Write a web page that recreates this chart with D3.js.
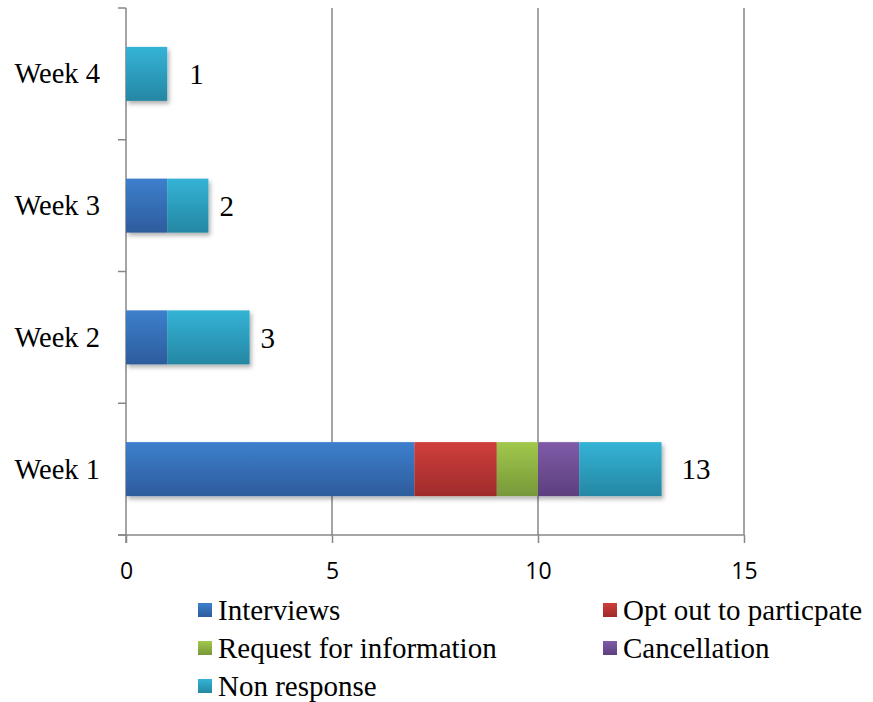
<!DOCTYPE html>
<html>
<head>
<meta charset="utf-8">
<script src="https://cdn.jsdelivr.net/npm/d3@7"></script>
<style>
  body { margin: 0; background: #fff; }
</style>
</head>
<body>
<div id="chart"></div>
<script>
// data
var weeks = ["Week 1", "Week 2", "Week 3", "Week 4"];
var seriesNames = ["Interviews", "Opt out to particpate", "Request for information", "Cancellation", "Non response"];
var interviews = [7, 1, 1, 0];
var optOut = [2, 0, 0, 0];
var requestInfo = [1, 0, 0, 0];
var cancellation = [1, 0, 0, 0];
var nonResponse = [2, 2, 1, 1];
var xTicks = [0, 5, 10, 15];

var colorsTop = ["#3d7fcd", "#d03e3b", "#a2c84b", "#7f5ba8", "#34b3d6"];
var colorsBottom = ["#2d5c9c", "#9e2b2b", "#77983a", "#5d3f7e", "#2587a3"];

var serif = "'Liberation Serif', 'Times New Roman', serif";
var width = 873, height = 702,
    margin = { left: 126, right: 129, top: 8, bottom: 167 };
var chartWidth = width - margin.left - margin.right;
var chartHeight = height - margin.top - margin.bottom;

var rows = weeks.map(function(w, i) {
    return {
        week: w,
        "Interviews": interviews[i],
        "Opt out to particpate": optOut[i],
        "Request for information": requestInfo[i],
        "Cancellation": cancellation[i],
        "Non response": nonResponse[i]
    };
});

var stacked = d3.stack().keys(seriesNames)(rows);

var xScale = d3.scaleLinear().domain([0, 15]).range([0, chartWidth]);
var yScale = d3.scaleBand().domain(weeks.slice().reverse()).range([0, chartHeight]).paddingInner(0.59).paddingOuter(0.295);

var svg = d3.select("#chart").append("svg")
    .attr("width", width)
    .attr("height", height);

var defs = svg.append("defs");
seriesNames.forEach(function(s, i) {
    var g = defs.append("linearGradient")
        .attr("id", "grad" + i)
        .attr("x1", 0).attr("y1", 0).attr("x2", 0).attr("y2", 1);
    g.append("stop").attr("offset", "0%").attr("stop-color", colorsTop[i]);
    g.append("stop").attr("offset", "100%").attr("stop-color", colorsBottom[i]);
});
var filt = defs.append("filter").attr("id", "shadow")
    .attr("x", "-10%").attr("y", "-10%").attr("width", "130%").attr("height", "140%");
filt.append("feDropShadow").attr("dx", 2).attr("dy", 3).attr("stdDeviation", 2)
    .attr("flood-color", "#000").attr("flood-opacity", 0.3);

var chartG = svg.append("g")
    .attr("transform", "translate(" + margin.left + "," + margin.top + ")");

// gridlines
chartG.append("g").selectAll("line").data(xTicks.slice(1)).enter().append("line")
    .attr("x1", function(d) { return xScale(d); })
    .attr("x2", function(d) { return xScale(d); })
    .attr("y1", 0).attr("y2", chartHeight)
    .attr("stroke", "#878787").attr("stroke-width", 1.5);

// x axis
var xAxis = d3.axisBottom(xScale).tickValues(xTicks).tickSize(8);
var xg = chartG.append("g")
    .attr("transform", "translate(0," + chartHeight + ")")
    .call(xAxis);
xg.select(".domain").remove();
xg.append("line").attr("x1", -8).attr("x2", chartWidth).attr("y1", 0).attr("y2", 0)
    .attr("stroke", "#878787").attr("stroke-width", 1.5);
xg.selectAll(".tick line").attr("stroke", "#878787").attr("stroke-width", 1.5);
xg.selectAll(".tick text")
    .attr("y", 44).attr("dy", 0)
    .attr("fill", "#000")
    .style("font-family", "'Open Sans', 'Liberation Sans', sans-serif")
    .style("font-size", "23px");

// y axis (ticks between categories)
var bandStep = chartHeight / weeks.length;
var yTickPos = d3.range(weeks.length + 1).map(function(i) { return i * bandStep; });
chartG.append("line").attr("x1", 0).attr("x2", 0).attr("y1", 0).attr("y2", chartHeight + 8)
    .attr("stroke", "#878787").attr("stroke-width", 1.5);
chartG.append("g").selectAll("line").data(yTickPos).enter().append("line")
    .attr("x1", -8).attr("x2", 0)
    .attr("y1", function(d) { return d; }).attr("y2", function(d) { return d; })
    .attr("stroke", "#878787").attr("stroke-width", 1.5);

chartG.append("g").selectAll("text").data(weeks).enter().append("text")
    .attr("x", -26)
    .attr("y", function(d) { return yScale(d) + yScale.bandwidth() / 2; })
    .attr("dy", "0.33em")
    .attr("text-anchor", "end")
    .style("font-family", serif)
    .style("font-size", "28.5px")
    .text(function(d) { return d; });

// bars
var barsG = chartG.append("g").attr("filter", "url(#shadow)");
barsG.selectAll("g").data(stacked).enter().append("g")
    .attr("fill", function(d, i) { return "url(#grad" + i + ")"; })
    .selectAll("rect").data(function(d) { return d; }).enter().append("rect")
    .filter(function(d) { return d[1] - d[0] > 0; })
    .attr("x", function(d) { return xScale(d[0]); })
    .attr("y", function(d) { return yScale(d.data.week); })
    .attr("width", function(d) { return xScale(d[1]) - xScale(d[0]); })
    .attr("height", yScale.bandwidth());

// totals
chartG.append("g").selectAll("text").data(rows).enter().append("text")
    .attr("x", function(d, i) {
        var total = d3.sum(seriesNames, function(k) { return d[k]; });
        return xScale(total) + (total < 2 ? 22 : (total > 10 ? 20 : 11));
    })
    .attr("y", function(d) { return yScale(d.week) + yScale.bandwidth() / 2; })
    .attr("dy", "0.35em")
    .style("font-family", serif)
    .style("font-size", "29px")
    .text(function(d) { return d3.sum(seriesNames, function(k) { return d[k]; }); });

// legend
var legendPos = [[198, 610], [603, 610], [198, 648], [603, 648], [198, 686]];
var legend = svg.append("g").selectAll("g").data(seriesNames).enter().append("g")
    .attr("transform", function(d, i) { return "translate(" + legendPos[i][0] + "," + legendPos[i][1] + ")"; });
legend.append("rect")
    .attr("x", 0).attr("y", -7).attr("width", 14).attr("height", 14)
    .attr("fill", function(d, i) { return "url(#grad" + i + ")"; });
legend.append("text")
    .attr("x", 20).attr("y", 0).attr("dy", "0.35em")
    .style("font-family", serif)
    .style("font-size", "29px")
    .text(function(d) { return d; });
</script>
</body>
</html>
